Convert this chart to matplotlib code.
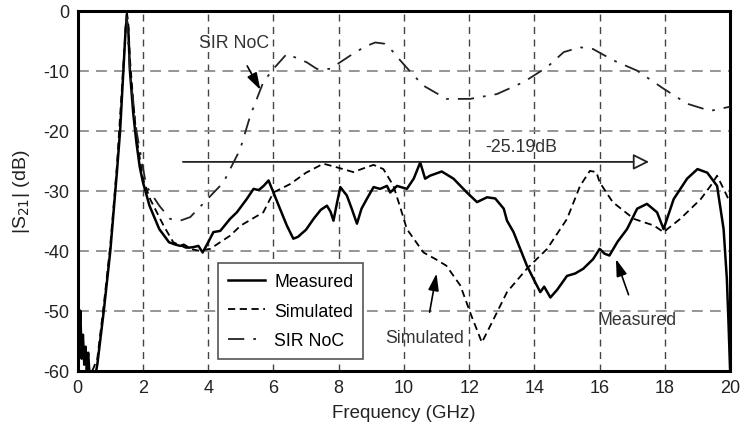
import numpy as np
import matplotlib
matplotlib.use("Agg")
import matplotlib.pyplot as plt
from matplotlib.patches import FancyArrowPatch

plt.rcParams["font.family"] = ["Liberation Sans", "DejaVu Sans"]
plt.rcParams["axes.unicode_minus"] = False

# measured |S21| (solid)
meas_f = [0, 0.04, 0.08, 0.12, 0.16, 0.2, 0.24, 0.28, 0.32, 0.36, 0.55, 0.6, 0.8, 1.0, 1.2, 1.3, 1.4, 1.47, 1.5,
          1.55, 1.6, 1.7, 1.8, 1.9, 2.0, 2.2, 2.5, 2.8, 3.0, 3.15, 3.25, 3.4, 3.55, 3.7, 3.83, 4.0, 4.16,
          4.37, 4.67, 4.88, 5.18, 5.39, 5.55, 5.7, 5.85, 6.0, 6.2, 6.41, 6.61, 6.75, 7.0, 7.23, 7.45, 7.64,
          7.75, 7.84, 7.95, 8.05, 8.25, 8.4, 8.56, 8.7, 8.86, 9.07, 9.27, 9.48, 9.58, 9.79, 10.09, 10.3,
          10.5, 10.65, 10.8, 11.16, 11.52, 11.93, 12.24, 12.55, 12.8, 13.06, 13.16, 13.36, 13.77, 14.0,
          14.18, 14.3, 14.49, 14.7, 15.0, 15.25, 15.5, 15.8, 16.0, 16.15, 16.3, 16.55, 16.84, 17.15,
          17.45, 17.76, 17.96, 18.27, 18.68, 19.0, 19.3, 19.6, 19.8, 19.9, 19.95, 20.0]
meas_db = [-48, -55, -50, -58, -54, -59, -56, -60, -57, -60.5, -60.5, -59, -50, -40, -27, -20, -10, -3, -1.5,
           -3, -10, -17, -22, -26, -28.6, -32.5, -36.4, -38.6, -39, -39.2, -39, -39.5, -39.4, -39.2, -40.3,
           -38.6, -36.9, -36.7, -34.7, -33.6, -31.4, -29.7, -29.9, -29.2, -28.3, -30.3, -33, -35.8, -38,
           -37.7, -36.5, -34.7, -33.2, -32.5, -33.5, -35, -32, -29.4, -30.8, -33, -35.5, -33, -31.4, -29.4,
           -29.7, -29.2, -30.3, -29.2, -29.7, -28, -25.3, -28, -27.5, -26.8, -28, -30.3, -31.9, -31.1,
           -31.3, -33, -35, -36.9, -42.5, -45, -46.9, -46, -47.8, -46.5, -44.2, -43.8, -43, -41.4, -39.7,
           -40.5, -40.8, -38.5, -36.4, -33, -32.2, -33.6, -36.4, -31.4, -28, -26.4, -27, -29.2, -36.4,
           -44.7, -52, -60]

# simulated |S21| (dashed)
sim_f = [0.45, 0.6, 0.8, 1.0, 1.2, 1.4, 1.5, 1.55, 1.6, 1.7, 1.8, 2.0, 2.22, 2.63, 2.93, 3.3, 3.7, 4.06,
         4.67, 5.0, 5.69, 6.0, 6.51, 7.0, 7.53, 7.94, 8.45, 8.8, 9.07, 9.37, 9.68, 9.9, 10.09, 10.6, 11.0,
         11.3, 11.73, 12.03, 12.39, 12.75, 13.16, 13.77, 14.39, 15.0, 15.4, 15.7, 15.9, 16.0, 16.4, 17.05,
         17.66, 17.96, 18.47, 19.1, 19.4, 19.6, 19.8, 20.0]
sim_db = [-60, -58, -49, -39, -26, -9, 0, -2, -8, -15, -21, -28, -31.4, -35.8, -38.6, -39.5, -40, -39.7,
          -37.5, -35.8, -33.6, -30.3, -28.9, -27, -25.5, -26.1, -26.9, -26.2, -25.7, -26.4, -29.2, -33,
          -36.4, -40.3, -41.5, -42.5, -45.8, -50.3, -55.3, -51.4, -46.9, -43, -39.7, -34.7, -29.2, -26.7,
          -26.9, -28.6, -31.9, -34.7, -35.8, -36.9, -34.7, -31.4, -29.2, -27.5, -29.7, -32]

# SIR NoC (dash-dot)
sir_f = [1.5, 1.6, 1.8, 2.1, 2.5, 2.83, 3.14, 3.45, 3.96, 4.47, 4.98, 5.29, 5.69, 6.0, 6.41, 7.02, 7.33,
         7.74, 8.35, 8.8, 9.12, 9.4, 9.68, 9.89, 10.25, 10.6, 11.3, 12.03, 12.85, 13.67, 14.39, 14.9, 15.4,
         15.8, 16.43, 17.15, 17.96, 18.68, 19.39, 20.0]
sir_db = [-1, -10, -20, -29.2, -32.5, -34.7, -35, -34.4, -31.5, -28.6, -23.1, -17.5, -11.9, -9.7, -7.2,
          -8.6, -9.7, -9.7, -7.5, -6.0, -5.3, -5.5, -6.9, -8.3, -10.5, -12.5, -14.7, -14.7, -13.9, -11.9,
          -9.4, -6.9, -6.1, -6.4, -8.3, -10, -13, -15.5, -16.7, -16]

x_ticks = [0, 2, 4, 6, 8, 10, 12, 14, 16, 18, 20]
y_ticks = [0, -10, -20, -30, -40, -50, -60]


def main():
    fig = plt.figure(figsize=(7.48, 4.31), dpi=100)
    ax = fig.add_axes([0.1039, 0.1376, 0.8722, 0.8353])

    # grid
    for x in x_ticks[1:-1]:
        ax.axvline(x, color="#444444", lw=1.0, ls=(0, (5, 4)), zorder=1)
    for y in y_ticks[1:-1]:
        ax.axhline(y, color="#8c8c8c", lw=1.3, ls=(0, (6, 4)), zorder=1)

    ax.plot(meas_f, meas_db, color="black", lw=1.8, ls="-", label="Measured", zorder=3)
    ax.plot(sim_f, sim_db, color="black", lw=1.3, ls=(0, (4, 2.5)), label="Simulated", zorder=3)
    ax.plot(sir_f, sir_db, color="#222222", lw=1.3, ls=(0, (9, 5, 1.5, 5)), label="SIR NoC", zorder=3)

    ax.set_xlim(0, 20)
    ax.set_ylim(-60, 0)
    ax.set_xticks(x_ticks)
    ax.set_yticks(y_ticks)
    ax.tick_params(labelsize=13, length=0, pad=6, labelcolor="#222222")
    for s in ax.spines.values():
        s.set_linewidth(2.2)
    ax.set_xlabel("Frequency (GHz)", fontsize=13.5, color="#222222", labelpad=6)
    ax.set_ylabel("|S$_{21}$| (dB)", fontsize=14, color="#222222", labelpad=8)

    # -25.19dB arrow
    arr = FancyArrowPatch((3.14, -25.2), (17.6, -25.2), arrowstyle="-|>,head_length=8,head_width=4",
                          lw=1.3, fc="white", ec="#222222", zorder=4, mutation_scale=1.2)
    ax.add_patch(arr)
    ax.text(13.6, -22.6, "-25.19dB", fontsize=12.8, ha="center", va="center", color="#333333")

    # callouts
    ap = dict(arrowstyle="-|>,head_length=0.8,head_width=0.25", color="black", lw=1.2)
    ax.annotate("SIR NoC", xy=(5.6, -13.2), xytext=(4.8, -5.3), fontsize=12.8, ha="center", va="center",
                arrowprops=dict(ap, shrinkA=10, shrinkB=0), color="#333333")
    ax.annotate("Simulated", xy=(11.0, -43.8), xytext=(10.65, -54.4), fontsize=12.8, ha="center", va="center",
                arrowprops=dict(ap, shrinkA=10, shrinkB=0), color="#333333")
    ax.annotate("Measured", xy=(16.5, -41.4), xytext=(17.15, -51.4), fontsize=12.8, ha="center", va="center",
                arrowprops=dict(ap, shrinkA=10, shrinkB=0), color="#333333")

    leg = ax.legend(loc="lower left", bbox_to_anchor=(0.2155, 0.033), fontsize=12.8, fancybox=False,
                    framealpha=1, edgecolor="#555555", handlelength=2.1, handletextpad=0.5,
                    borderpad=0.55, labelspacing=0.7, borderaxespad=0)
    leg.get_frame().set_linewidth(1.2)
    leg.set_zorder(5)

    fig.savefig("out.png", dpi=100)
    plt.close(fig)


if __name__ == "__main__":
    main()
